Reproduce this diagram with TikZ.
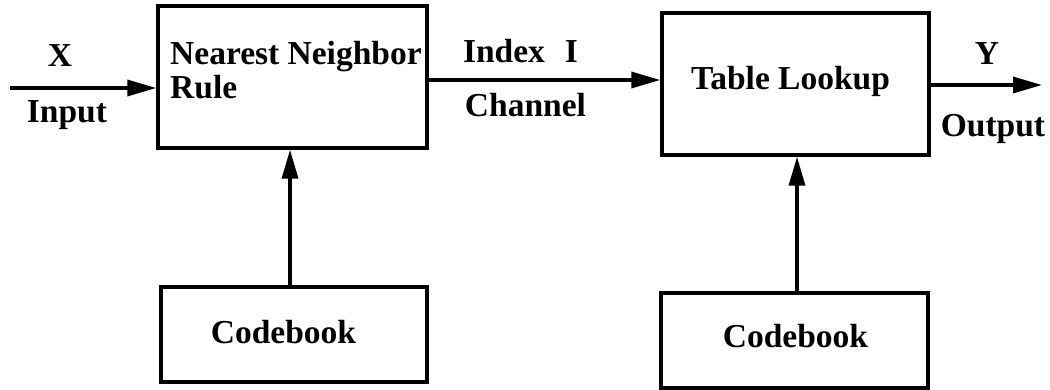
\documentclass[tikz,border=0pt]{standalone}
\usepackage{fontspec}
\setmainfont{Liberation Serif}
\usetikzlibrary{arrows.meta}
\begin{document}
\begin{tikzpicture}[x=1pt,y=-1pt,
  blk/.style={draw, line width=3.4pt, inner sep=0pt, anchor=center},
  lbl/.style={font=\bfseries\fontsize{33.5}{30}\selectfont, inner sep=0pt, anchor=base},
  flow/.style={line width=3.4pt, -{Triangle[length=29pt,width=16pt]}}]
\useasboundingbox (0,0) rectangle (1050,390);

% encoder, decoder and their codebooks
\node[blk, minimum width=269pt, minimum height=142pt] (nn) at (292.5,77) {};
\node[blk, minimum width=267pt, minimum height=142pt] (tl) at (795.5,84) {};
\node[blk, minimum width=266pt, minimum height=95pt] (cb1) at (294,334.5) {};
\node[blk, minimum width=267pt, minimum height=95pt] (cb2) at (794.5,340.5) {};

% block texts
\node[lbl, anchor=base west] (nnt1) at (170,65) {Nearest Neighbor};
\node[lbl, anchor=base west] (nnt2) at (170,99) {Rule};
\node[lbl] (tlt) at (790.5,90) {Table Lookup};
\node[lbl] (cbt1) at (283.5,343) {Codebook};
\node[lbl] (cbt2) at (795.5,347) {Codebook};

% free ends and line positions
\coordinate (src) at (10,88);
\coordinate (dst) at (1042,85);
\coordinate (chan) at (0,80);
\coordinate (u1) at (290,0);
\coordinate (u2) at (797,0);

% signal path
\draw[flow] (src) -- (src -| nn.west);
\draw[flow] (nn.east |- chan) -- (tl.west |- chan);
\draw[flow] (tl.east |- dst) -- (dst);
\draw[flow] (cb1.north -| u1) -- (nn.south -| u1);
\draw[flow] (cb2.north -| u2) -- (tl.south -| u2);

% signal labels
\node[lbl] (xl) at (60,67) {X};
\node[lbl] (inl) at (67,123) {Input};
\node[lbl] (idx) at (520.5,63) {Index\hspace{20pt}I};
\node[lbl] (chl) at (525.5,117) {Channel};
\node[lbl] (yl) at (987,65) {Y};
\node[lbl] (outl) at (993,137) {Output};
\end{tikzpicture}
\end{document}
